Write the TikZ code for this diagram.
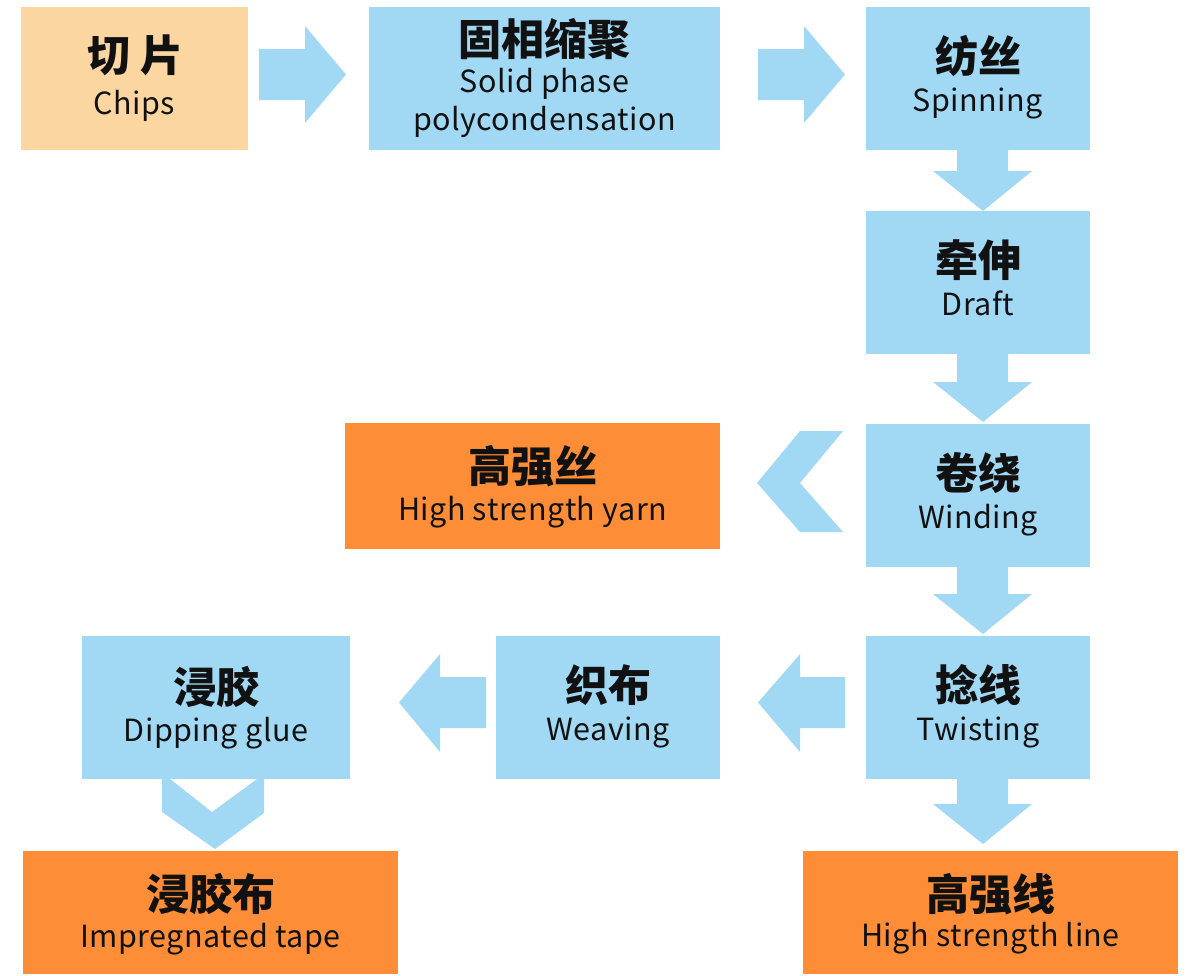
\documentclass[tikz,border=0pt]{standalone}
\usepackage{fontspec}
\newfontfamily\cnfont{Noto Sans CJK SC}
\newfontfamily\enfont{Noto Sans CJK SC}[LetterSpace=1.5]
\definecolor{lblue}{HTML}{A1D9F5}
\definecolor{lorange}{HTML}{FBD6A0}
\definecolor{dorange}{HTML}{FD8D36}
\definecolor{ink}{HTML}{111111}
\tikzset{
  bx/.style={draw=none, inner sep=0pt, outer sep=0pt},
  cn/.style={anchor=base, inner sep=0pt, text=ink, font=\cnfont\bfseries\fontsize{43}{43}\selectfont},
  en/.style={anchor=base, inner sep=0pt, text=ink, font=\enfont\fontsize{30.5}{30.5}\selectfont},
  blk/.style={fill=lblue, draw=none}
}
\begin{document}
\begin{tikzpicture}[x=1pt,y=-1pt]
\useasboundingbox (0,0) rectangle (1190,975);
% boxes
\node[bx, fill=lorange, minimum width=227pt, minimum height=143pt] (chips) at (134.5,78.5) {};
\node[bx, fill=lblue, minimum width=351pt, minimum height=143pt] (ssp) at (544.5,78.5) {};
\node[bx, fill=lblue, minimum width=224pt, minimum height=143pt] (spin) at (978,78.5) {};
\node[bx, fill=lblue, minimum width=224pt, minimum height=143pt] (draft) at (978,282.5) {};
\node[bx, fill=lblue, minimum width=224pt, minimum height=143pt] (wind) at (978,495.5) {};
\node[bx, fill=lblue, minimum width=224pt, minimum height=143pt] (twist) at (978,707.5) {};
\node[bx, fill=lblue, minimum width=224pt, minimum height=143pt] (weave) at (608,707.5) {};
\node[bx, fill=lblue, minimum width=268pt, minimum height=143pt] (dip) at (216,707.5) {};
\node[bx, fill=dorange, minimum width=375pt, minimum height=126pt] (yarn) at (532.5,486) {};
\node[bx, fill=dorange, minimum width=375pt, minimum height=123pt] (tape) at (210.5,912.5) {};
\node[bx, fill=dorange, minimum width=375pt, minimum height=123pt] (line) at (990.5,912.5) {};
% texts
\node[cn] (chipsC) at (135.5,71) {切\hspace{10pt}片};
\node[en] (chipsE) at (134.5,114) {Chips};
\node[cn] (sspC) at (544.5,55) {固相缩聚};
\node[en] (sspE1) at (544.5,92) {Solid phase};
\node[en] (sspE2) at (544.5,130) {polycondensation};
\node[cn] (spinC) at (978,72) {纺丝};
\node[en] (spinE) at (978,111) {Spinning};
\node[cn] (draftC) at (978,276) {牵伸};
\node[en] (draftE) at (978,315) {Draft};
\node[cn] (windC) at (978,489) {卷绕};
\node[en] (windE) at (978,528) {Winding};
\node[cn] (twistC) at (978,701) {捻线};
\node[en] (twistE) at (978,740) {Twisting};
\node[cn] (weaveC) at (608,701) {织布};
\node[en] (weaveE) at (608,740) {Weaving};
\node[cn] (dipC) at (216,703) {浸胶};
\node[en] (dipE) at (216,741) {Dipping glue};
\node[cn] (yarnC) at (532.5,482) {高强丝};
\node[en] (yarnE) at (532.5,520) {High strength yarn};
\node[cn] (tapeC) at (210.5,910) {浸胶布};
\node[en] (tapeE) at (210.5,947) {Impregnated tape};
\node[cn] (lineC) at (990.5,910) {高强线};
\node[en] (lineE) at (990.5,946) {High strength line};
% block arrows
\fill[blk] (259,49) -- (305,49) -- (305,26) -- (346,74.5) -- (305,123) -- (305,100) -- (259,100) -- cycle;
\fill[blk] (758,49) -- (804,49) -- (804,26) -- (845,74.5) -- (804,123) -- (804,100) -- (758,100) -- cycle;
\fill[blk] (957,150) -- (1008,150) -- (1008,171) -- (1032,171) -- (983,211) -- (933,171) -- (957,171) -- cycle;
\fill[blk] (957,354) -- (1008,354) -- (1008,382) -- (1032,382) -- (983,422) -- (933,382) -- (957,382) -- cycle;
\fill[blk] (957,567) -- (1008,567) -- (1008,594) -- (1032,594) -- (983,634) -- (933,594) -- (957,594) -- cycle;
\fill[blk] (957,779) -- (1008,779) -- (1008,804) -- (1032,804) -- (983,844) -- (933,804) -- (957,804) -- cycle;
\fill[blk] (845,677) -- (800,677) -- (800,654) -- (758,702.5) -- (800,752) -- (800,728) -- (845,728) -- cycle;
\fill[blk] (486,677) -- (440,677) -- (440,654) -- (399,702.5) -- (440,752) -- (440,728) -- (486,728) -- cycle;
\fill[blk] (843,431) -- (800,431) -- (757,483) -- (800,532) -- (843,532) -- (800,483) -- cycle;
\fill[blk] (162,779) -- (170,779) -- (212,812) -- (257,779) -- (264,779) -- (264,813) -- (215,849) -- (162,812) -- cycle;
\end{tikzpicture}
\end{document}
